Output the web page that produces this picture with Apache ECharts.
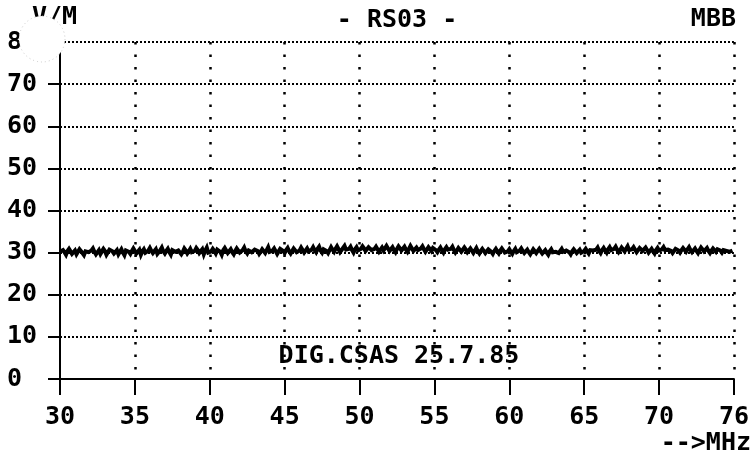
<!DOCTYPE html>
<html>
<head>
<meta charset="utf-8">
<script src="https://cdn.jsdelivr.net/npm/echarts@6/dist/echarts.min.js"></script>
<style>html,body{margin:0;padding:0;background:#fff}#c{width:752px;height:456px}</style>
</head>
<body>
<div id="c"></div>
<script>
// Frequency axis (MHz)
const freqStart = 30;
const freqStep = 0.1;
const xTickLabels = ['30', '35', '40', '45', '50', '55', '60', '65', '70', '76'];
const yTickValues = [0, 10, 20, 30, 40, 50, 60, 70, 80];

const traceLevel = [
  30.2,29.8,30.6,30.1,29.5,30.4,30.9,30.3,29.7,30.0,
  30.5,29.6,30.2,30.8,30.4,29.9,29.4,30.3,30.7,30.1,
  29.8,30.5,31.0,30.2,29.6,30.0,30.6,29.7,30.3,30.9,
  30.4,29.5,29.9,30.7,31.1,30.3,29.8,30.1,30.6,29.6,
  30.2,30.8,30.0,29.4,30.5,30.9,30.2,29.7,30.4,31.0,
  30.6,29.8,30.1,30.7,29.5,30.3,30.8,30.0,29.6,30.5,
  31.1,30.4,29.9,30.2,30.8,29.7,30.0,30.6,31.2,30.3,
  29.8,30.4,30.9,30.1,29.5,30.6,31.0,30.2,29.9,30.5,
  30.8,29.6,30.2,31.0,30.5,29.8,30.3,30.9,30.1,29.7,
  30.4,31.1,30.6,29.9,30.2,30.8,29.6,30.5,31.2,30.0,
  29.7,30.3,30.9,30.4,29.8,30.7,31.0,30.2,29.5,30.6,
  31.1,30.5,29.9,30.3,30.8,30.1,29.6,30.4,31.0,30.7,
  30.0,29.7,30.6,31.2,30.3,29.8,30.5,30.9,30.1,29.9,
  30.7,31.1,30.4,29.7,30.2,30.8,30.5,29.9,30.6,31.3,
  30.2,29.8,30.5,31.0,30.6,29.7,30.3,30.9,31.2,30.4,
  29.9,30.6,31.1,30.3,29.8,30.4,31.0,30.7,30.1,29.8,
  30.5,31.2,30.8,30.0,30.4,31.0,30.3,29.9,30.7,31.3,
  30.6,30.1,30.9,31.4,30.5,30.0,30.8,31.2,30.4,29.9,
  30.6,31.3,30.7,30.2,30.9,31.5,30.8,30.1,30.6,31.1,
  31.6,30.7,30.3,30.9,31.4,30.6,30.0,30.8,31.3,30.5,
  30.2,30.9,31.5,31.0,30.4,30.7,31.3,31.7,30.6,30.3,
  30.9,31.4,30.8,30.2,30.7,31.2,30.5,30.9,31.6,31.0,
  30.4,30.8,31.3,30.6,30.1,30.9,31.5,31.1,30.5,30.8,
  31.4,30.7,30.2,30.9,31.6,31.0,30.4,30.8,31.2,30.6,
  30.3,31.0,31.5,30.8,30.2,30.6,31.3,30.9,30.4,31.1,
  31.4,30.6,30.1,30.7,31.2,30.5,30.0,30.8,31.3,30.7,
  30.3,30.9,31.4,30.6,30.0,30.5,31.1,30.8,30.2,30.6,
  31.2,30.7,30.1,30.4,31.0,30.6,29.9,30.5,31.1,30.3,
  29.8,30.4,30.9,30.5,29.9,30.3,30.8,31.0,30.2,29.7,
  30.4,30.9,30.3,29.8,30.5,31.0,30.6,30.0,29.6,30.3,
  30.8,30.2,29.7,30.4,30.9,30.1,29.8,30.5,31.0,30.4,
  29.9,30.3,30.7,30.1,29.6,30.2,30.8,30.5,29.9,30.4,
  30.9,30.3,29.8,30.2,30.6,30.0,29.5,30.3,30.8,30.1,
  29.7,30.2,30.6,29.9,30.4,30.9,30.2,29.8,30.5,30.7,
  30.1,29.6,30.3,30.8,30.4,29.9,30.2,30.7,30.0,29.7,
  30.4,30.9,30.3,29.8,30.6,31.0,30.5,30.1,30.7,31.2,
  30.4,29.9,30.6,31.1,30.5,30.0,30.8,31.3,30.6,30.2,
  30.9,31.4,30.7,30.1,30.6,31.2,30.8,30.3,30.9,31.5,
  30.6,30.2,30.8,31.3,30.7,30.1,30.5,31.1,30.9,30.4,
  30.7,31.2,30.6,30.0,30.4,30.9,30.3,29.8,30.6,31.1,
  30.5,30.1,30.8,31.3,30.6,30.2,30.7,31.0,30.4,29.9,
  30.3,30.9,31.2,30.5,30.0,30.6,31.1,30.7,30.2,30.8,
  31.3,30.6,30.1,30.5,31.0,30.4,29.9,30.6,31.2,30.8,
  30.3,30.7,31.1,30.4,29.9,30.5,31.0,30.6,30.2,30.8,
  31.2,30.5,30.0,30.6,31.0,30.4,30.8,30.2,29.8,30.5
];

const titleText = '- RS03 -';
const makerText = 'MBB';
const unitText = 'V/M';
const xUnitText = '-->MHz';
const noteText = 'DIG.CSAS 25.7.85';

const tracePairs = traceLevel.map((v, i) => [Math.round((freqStart + i * freqStep) * 100) / 100, v]);

const FONT = 'DejaVu Sans Mono';
const FS = 25;
const F = 'bold ' + FS + 'px ' + FONT;

const chart = echarts.init(document.getElementById('c'), null, {renderer: 'canvas'});
chart.setOption({
  backgroundColor: '#fff',
  animation: false,
  grid: {left: 60, right: 17, top: 42, bottom: 77, containLabel: false},
  xAxis: {
    type: 'value', min: 30, max: 75, interval: 5,
    axisLine: {show: true, onZero: false, lineStyle: {color: '#000', width: 2}},
    axisTick: {show: true, inside: false, length: 16, lineStyle: {color: '#000', width: 2}},
    axisLabel: {
      show: true, margin: 26, color: '#000', fontFamily: FONT, fontWeight: 'bold', fontSize: FS,
      showMinLabel: true, showMaxLabel: true,
      formatter: (v, i) => xTickLabels[i] !== undefined ? xTickLabels[i] : ''
    },
    splitLine: {show: true, showMinLine: false, lineStyle: {color: '#000', width: 2.5, type: [2.5, 10]}}
  },
  yAxis: {
    type: 'value', min: 0, max: 80, interval: 10,
    axisLine: {show: true, onZero: false, lineStyle: {color: '#000', width: 2}},
    axisTick: {show: true, inside: false, length: 12, lineStyle: {color: '#000', width: 2}},
    axisLabel: {
      show: true, margin: 53, align: 'left', color: '#000', fontFamily: FONT, fontWeight: 'bold', fontSize: FS,
      formatter: (v) => yTickValues.indexOf(v) >= 0 ? String(v) : ''
    },
    splitLine: {show: true, showMinLine: false, lineStyle: {color: '#000', width: 2, type: [2, 2]}}
  },
  series: [{
    type: 'line', data: tracePairs, showSymbol: false, symbol: 'none', sampling: null,
    lineStyle: {color: '#000', width: 4, join: 'miter'}, z: 5
  }],
  graphic: [
    {type: 'text', x: 397, y: 20, z: 10,
     style: {text: titleText, fill: '#000', font: F, textAlign: 'center', textVerticalAlign: 'middle'}},
    {type: 'text', x: 736, y: 19, z: 10,
     style: {text: makerText, fill: '#000', font: F, textAlign: 'right', textVerticalAlign: 'middle'}},
    {type: 'text', x: 32, y: 17, z: 10,
     style: {text: unitText, fill: '#000', font: F, textAlign: 'left', textVerticalAlign: 'middle'}},
    {type: 'text', x: 751, y: 443, z: 10,
     style: {text: xUnitText, fill: '#000', font: F, textAlign: 'right', textVerticalAlign: 'middle'}},
    {type: 'text', x: 399, y: 356, z: 10,
     style: {text: noteText, fill: '#000', font: F, textAlign: 'center', textVerticalAlign: 'middle'}},
    {type: 'circle', shape: {cx: 42, cy: 39, r: 23}, z: 100, zlevel: 1,
     style: {fill: '#fff', stroke: '#c8c8c8', lineWidth: 1, lineDash: [1, 3]}}
  ]
});
</script>
</body>
</html>
